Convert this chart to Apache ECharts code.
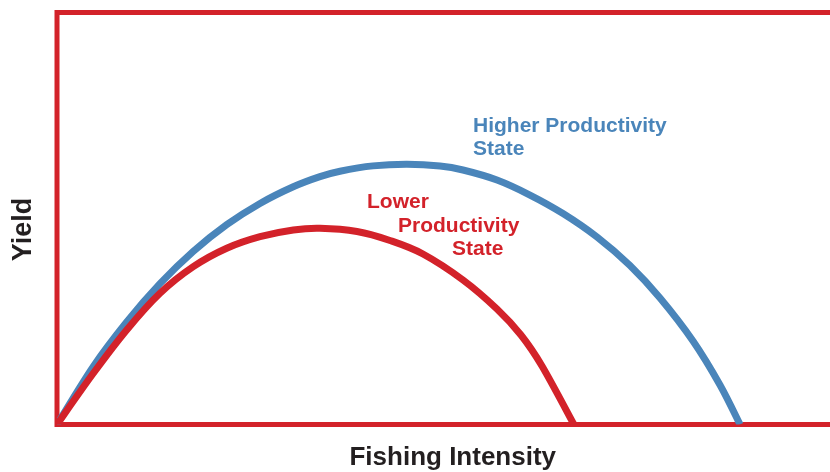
<!DOCTYPE html>
<html>
<head>
<meta charset="utf-8">
<script src="https://cdn.jsdelivr.net/npm/echarts@6/dist/echarts.min.js"></script>
<style>html,body{margin:0;padding:0;background:#fff;}#c{width:830px;height:472px;}</style>
</head>
<body>
<div id="c"></div>
<script>
const xAxisName = 'Fishing Intensity';
const yAxisName = 'Yield';
const higherName = 'Higher Productivity State';
const lowerName = 'Lower Productivity State';
// [fishing intensity, yield]
const higherCurve = [
  [0, 0], [4.68, 14.1], [8.98, 24.88], [13.27, 34.17], [17.56, 42.01], [21.87, 48.5],
  [26.16, 53.66], [30.45, 57.71], [33.89, 60.17], [36.47, 61.48], [40.72, 62.77], [45.1, 63.16],
  [49.36, 62.74], [52.32, 61.77], [56.7, 59.34], [60.95, 55.7], [65.21, 51.21], [69.59, 45.51],
  [73.84, 38.59], [77.71, 30.7], [81.96, 20.27], [85.44, 9.59], [88.02, 0]
];
const lowerCurve = [
  [0, 0], [4.68, 12.43], [8.98, 22.94], [13.27, 31.84], [17.56, 38.3], [21.87, 42.77],
  [26.16, 45.58], [30.45, 47.21], [33.89, 47.62], [38.66, 46.84], [42.91, 44.66], [47.16, 41.38],
  [52.32, 35.07], [56.7, 28.03], [59.79, 21.72], [62.5, 14.2], [66.62, 0]
];

const RED = '#d3222a', BLUE = '#4a85ba', DARK = '#231f20';
const FONT = '"Liberation Sans", Arial, Helvetica, sans-serif';

// Smooth curve (Catmull-Rom through the data points) drawn via the axes' scales
function curveSeries(name, pts, color, z) {
  return {
    type: 'custom', name: name, data: pts, encode: { x: 0, y: 1 }, clip: true, z: z,
    renderItem: function (params, api) {
      if (params.dataIndex !== 0) return null;
      const p = pts.map(function (d) { return api.coord(d); });
      let path = 'M' + p[0][0] + ',' + p[0][1];
      for (let i = 0; i < p.length - 1; i++) {
        const p0 = p[Math.max(i - 1, 0)], p1 = p[i], p2 = p[i + 1], p3 = p[Math.min(i + 2, p.length - 1)];
        const c1x = p1[0] + (p2[0] - p0[0]) / 6, c1y = p1[1] + (p2[1] - p0[1]) / 6;
        const c2x = p2[0] - (p3[0] - p1[0]) / 6, c2y = p2[1] - (p3[1] - p1[1]) / 6;
        path += ' C' + c1x + ',' + c1y + ' ' + c2x + ',' + c2y + ' ' + p2[0] + ',' + p2[1];
      }
      return {
        type: 'path', shape: { pathData: path },
        style: { fill: 'none', stroke: color, lineWidth: 7, lineJoin: 'round' }
      };
    }
  };
}

const chart = echarts.init(document.getElementById('c'));
chart.setOption({
  animation: false,
  grid: { left: 57, top: 12.5, width: 791.5, height: 412, outerBoundsMode: 'none', containLabel: false,
          show: true, borderColor: RED, borderWidth: 5, backgroundColor: 'transparent' },
  xAxis: {
    type: 'value', min: 0, max: 102,
    name: xAxisName, nameLocation: 'middle', nameGap: 20,
    nameTextStyle: { fontFamily: FONT, fontWeight: 'bold', fontSize: 26, color: DARK },
    axisLine: { show: false }, axisTick: { show: false }, axisLabel: { show: false }, splitLine: { show: false }
  },
  yAxis: {
    type: 'value', min: 0, max: 100,
    name: yAxisName, nameLocation: 'middle', nameGap: 20,
    nameTextStyle: { fontFamily: FONT, fontWeight: 'bold', fontSize: 27, color: DARK, padding: [0, 22, 0, 0] },
    axisLine: { show: false }, axisTick: { show: false }, axisLabel: { show: false }, splitLine: { show: false }
  },
  series: [
    curveSeries(higherName, higherCurve, BLUE, 2),
    curveSeries(lowerName, lowerCurve, RED, 3)
  ],
  graphic: [
    { type: 'text', left: 473, top: 115, style: { text: 'Higher Productivity\nState', fill: BLUE, font: 'bold 21px ' + FONT, lineHeight: 23 } },
    { type: 'text', left: 367, top: 192, style: { text: 'Lower', fill: RED, font: 'bold 21px ' + FONT } },
    { type: 'text', left: 398, top: 216, style: { text: 'Productivity', fill: RED, font: 'bold 21px ' + FONT } },
    { type: 'text', left: 452, top: 239, style: { text: 'State', fill: RED, font: 'bold 21px ' + FONT } }
  ]
});
</script>
</body>
</html>
